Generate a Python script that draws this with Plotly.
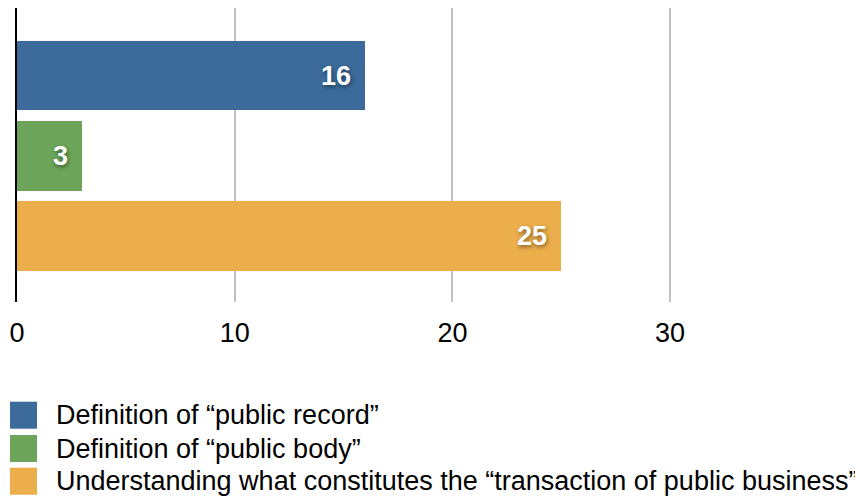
import plotly.graph_objects as go

categories = ["Definition of “public record”",
              "Definition of “public body”",
              "Understanding what constitutes the “transaction of public business”"]
values = [16, 3, 25]
colors = ["#3C6B9B", "#6CA55A", "#ECAE4B"]
tick_vals = [0, 10, 20, 30]
tick_text = ["0", "10", "20", "30"]

W, H = 855, 497
L, R, T, B = 17, 0, 8, 195
PW, PH = W - L - R, H - T - B
FONT = "Liberation Sans, Arial, Helvetica, sans-serif"

def px_x(px):
    return (px - L) / PW

def px_y(py):
    return (T + PH - py) / PH

fig = go.Figure()
ypos = list(range(len(categories)))
for i, (cat, v, c) in enumerate(zip(categories, values, colors)):
    fig.add_trace(go.Bar(
        x=[v], y=[ypos[i]], orientation="h", name=cat,
        marker=dict(color=c, line=dict(width=0)),
        width=0.872, showlegend=False, hoverinfo="x+name",
    ))
    fig.add_annotation(
        x=v, y=ypos[i], xref="x", yref="y", text=str(v),
        xanchor="right", yanchor="middle", xshift=-12, showarrow=False,
        font=dict(family=FONT, size=27, color="white", weight="bold",
                  shadow="1px 2px 4px rgba(0,0,0,0.45)"),
    )

# manual legend with large swatches
sw = 27
leg_top = [401.7, 435.0, 467.7]
for cat, c, top in zip(categories, colors, leg_top):
    fig.add_shape(type="rect", xref="paper", yref="paper",
                  x0=px_x(10), x1=px_x(10 + sw), y0=px_y(top + sw), y1=px_y(top),
                  fillcolor=c, line=dict(width=0))
    fig.add_annotation(x=px_x(54), y=px_y(top + sw / 2), xref="paper", yref="paper",
                       text=cat, xanchor="left", yanchor="middle", showarrow=False,
                       font=dict(family=FONT, size=27, color="black"))

fig.update_layout(
    width=W, height=H,
    margin=dict(l=L, r=R, t=T, b=B, pad=0),
    paper_bgcolor="white", plot_bgcolor="white",
    bargap=0, showlegend=False,
    font=dict(family=FONT, size=27, color="black"),
    xaxis=dict(range=[0, PW / 21.77], tickvals=tick_vals, ticktext=tick_text,
               showgrid=True, gridcolor="#C0C0C0", gridwidth=2,
               zeroline=False, showline=False, ticks="",
               ticklabelstandoff=12,
               tickfont=dict(family=FONT, size=27, color="black")),
    yaxis=dict(range=[2.822, -0.841], showticklabels=False, showgrid=False,
               zeroline=False, showline=True, linecolor="black", linewidth=2,
               ticks=""),
)

fig.write_html("out.html", config={"displayModeBar": False},
               post_script="document.body.style.margin='0';document.body.style.overflow='hidden';")
